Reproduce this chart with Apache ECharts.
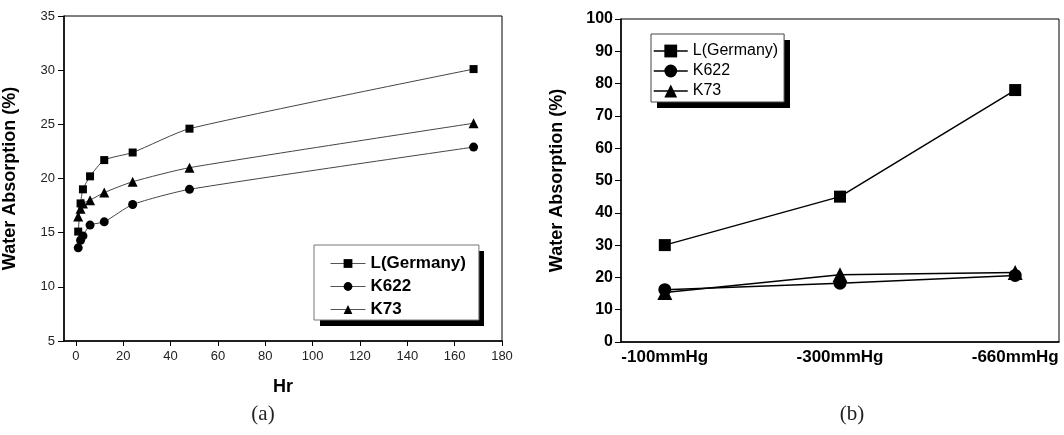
<!DOCTYPE html>
<html>
<head>
<meta charset="utf-8">
<script src="https://cdn.jsdelivr.net/npm/echarts@6/dist/echarts.min.js"></script>
<style>html,body{margin:0;padding:0;background:#fff}#c{width:1064px;height:435px}</style>
</head>
<body>
<div id="c"></div>
<script>
// ---- data (a) ----
var hours = [1, 2, 3, 6, 12, 24, 48, 168];
var lGermanyA = [15.1, 17.7, 19.0, 20.2, 21.7, 22.4, 24.6, 30.1];
var k622A = [13.6, 14.3, 14.7, 15.7, 16.0, 17.6, 19.0, 22.9];
var k73A = [16.5, 17.2, 17.7, 18.0, 18.7, 19.7, 21.0, 25.1];
var hourTicks = [0, 20, 40, 60, 80, 100, 120, 140, 160, 180];
// ---- data (b) ----
var pressures = ['-100mmHg', '-300mmHg', '-660mmHg'];
var lGermanyB = [30.0, 45.0, 78.0];
var k622B = [16.2, 18.2, 20.6];
var k73B = [15.3, 20.8, 21.5];
var seriesNames = ['L(Germany)', 'K622', 'K73'];
var symbols = ['rect', 'circle', 'triangle'];

function pairs(xs, ys) { return xs.map(function (x, i) { return [x, ys[i]]; }); }

var FONT = 'Liberation Sans, Arial, sans-serif';
var chart = echarts.init(document.getElementById('c'));

var aData = [lGermanyA, k622A, k73A];
var bData = [lGermanyB, k622B, k73B];
var aSizes = [8, 9, 10];
var bSizes = [12, 13, 15];

var series = [];
seriesNames.forEach(function (n, i) {
  series.push({
    name: n, type: 'line', xAxisIndex: 0, yAxisIndex: 0,
    data: pairs(hours, aData[i]),
    smooth: 0.2,
    symbol: symbols[i], symbolSize: aSizes[i],
    lineStyle: { color: '#444', width: 1 },
    itemStyle: { color: '#000' },
    emphasis: { disabled: true }
  });
});
seriesNames.forEach(function (n, i) {
  series.push({
    name: n, type: 'line', xAxisIndex: 1, yAxisIndex: 1,
    data: pairs([0, 1, 2], bData[i]),
    symbol: symbols[i], symbolSize: bSizes[i],
    lineStyle: { color: '#000', width: 1.5 },
    itemStyle: { color: '#000' },
    emphasis: { disabled: true }
  });
});

chart.setOption({
  animation: false,
  grid: [
    { left: 63, top: 16, width: 439, height: 325, show: true, borderColor: '#000', borderWidth: 1, backgroundColor: 'transparent' },
    { left: 621, top: 19, width: 438, height: 323, show: true, borderColor: '#000', borderWidth: 1, backgroundColor: 'transparent' }
  ],
  xAxis: [
    {
      type: 'value', gridIndex: 0, min: -5, max: 180,
      name: 'Hr', nameLocation: 'middle', nameGap: 37,
      nameTextStyle: { fontFamily: FONT, fontWeight: 'bold', fontSize: 18, color: '#000' },
      axisLine: { show: true, onZero: false, lineStyle: { color: '#000', width: 1.5 } },
      axisTick: { show: true, length: 5, inside: false, customValues: hourTicks, lineStyle: { color: '#000' } },
      axisLabel: { customValues: hourTicks, margin: 9, fontFamily: FONT, fontSize: 13, color: '#222' },
      splitLine: { show: false }
    },
    {
      type: 'value', gridIndex: 1, min: -0.25, max: 2.25,
      axisLine: { show: true, onZero: false, lineStyle: { color: '#000', width: 1.5 } },
      axisTick: { show: false },
      axisLabel: {
        customValues: [0, 1, 2], margin: 7,
        formatter: function (v) { return pressures[Math.round(v)]; },
        fontFamily: FONT, fontSize: 17, fontWeight: 'bold', color: '#000'
      },
      splitLine: { show: false }
    }
  ],
  yAxis: [
    {
      type: 'value', gridIndex: 0, min: 5, max: 35, interval: 5,
      name: 'Water Absorption (%)', nameLocation: 'middle', nameGap: 45,
      nameTextStyle: { fontFamily: FONT, fontWeight: 'bold', fontSize: 18, color: '#000' },
      axisLine: { show: true, onZero: false, lineStyle: { color: '#000', width: 1.5 } },
      axisTick: { show: true, length: 6, lineStyle: { color: '#000' } },
      axisLabel: { margin: 9, fontFamily: FONT, fontSize: 13, color: '#222' },
      splitLine: { show: false }
    },
    {
      type: 'value', gridIndex: 1, min: 0, max: 100, interval: 10,
      name: 'Water Absorption (%)', nameLocation: 'middle', nameGap: 55,
      nameTextStyle: { fontFamily: FONT, fontWeight: 'bold', fontSize: 18, color: '#000' },
      axisLine: { show: true, onZero: false, lineStyle: { color: '#000', width: 1.5 } },
      axisTick: { show: true, length: 6, lineStyle: { color: '#000' } },
      axisLabel: { margin: 8, fontFamily: FONT, fontSize: 16, fontWeight: 'bold', color: '#000' },
      splitLine: { show: false }
    }
  ],
  legend: [
    {
      data: seriesNames, orient: 'vertical', left: 314, top: 245,
      itemWidth: 35, itemHeight: 11, itemGap: 6,
      padding: [10, 13, 2, 16],
      backgroundColor: '#fff', borderColor: '#777', borderWidth: 1,
      lineStyle: { color: '#555', width: 1 },
      textStyle: { fontFamily: FONT, fontSize: 17, fontWeight: 'bold', color: '#000' },
      selectedMode: false
    },
    {
      data: seriesNames, orient: 'vertical', left: 651, top: 34,
      itemWidth: 34, itemHeight: 16, itemGap: 4,
      padding: [9, 6, 3, 2],
      backgroundColor: '#fff', borderColor: '#444', borderWidth: 1,
      lineStyle: { color: '#000', width: 1.5 },
      textStyle: { fontFamily: FONT, fontSize: 16, color: '#000' },
      selectedMode: false
    }
  ],
  graphic: [
    { type: 'rect', z: 1, shape: { x: 320, y: 251, width: 164, height: 75 }, style: { fill: '#000' }, silent: true },
    { type: 'rect', z: 1, shape: { x: 657, y: 40, width: 133, height: 68 }, style: { fill: '#000' }, silent: true },
    { type: 'text', x: 263, y: 414, style: { text: '(a)', fontFamily: 'Liberation Serif, DejaVu Serif, serif', fontSize: 21, fill: '#222', textAlign: 'center', textVerticalAlign: 'middle' } },
    { type: 'text', x: 852, y: 414, style: { text: '(b)', fontFamily: 'Liberation Serif, DejaVu Serif, serif', fontSize: 21, fill: '#222', textAlign: 'center', textVerticalAlign: 'middle' } }
  ],
  series: series
});
</script>
</body>
</html>
